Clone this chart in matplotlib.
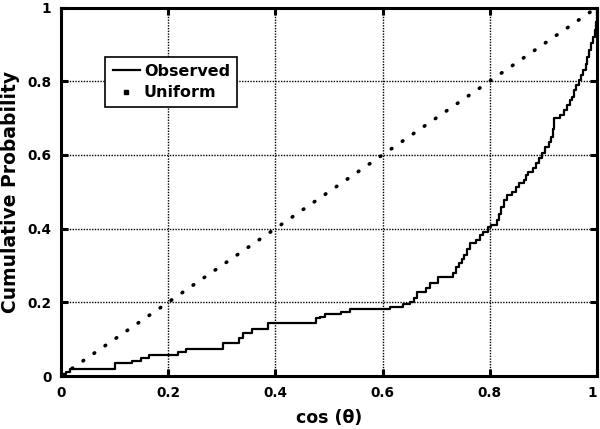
import matplotlib

matplotlib.use("Agg")
import matplotlib.pyplot as plt
from matplotlib.lines import Line2D

plt.rcParams.update(
    {
        "font.family": ["DejaVu Sans"],
        "font.weight": "bold",
        "font.size": 10,
    }
)

obs_x = [
    0.000, 0.004, 0.010, 0.016, 0.100, 0.132, 0.149, 0.165, 0.218, 0.234,
    0.303, 0.333, 0.340, 0.356, 0.387, 0.476, 0.483, 0.493, 0.522, 0.539,
    0.614, 0.639, 0.651, 0.658, 0.664, 0.681, 0.688, 0.704, 0.732, 0.738,
    0.742, 0.748, 0.752, 0.758, 0.763, 0.774, 0.782, 0.788, 0.796, 0.803,
    0.813, 0.818, 0.822, 0.826, 0.833, 0.841, 0.850, 0.855, 0.864, 0.868,
    0.872, 0.880, 0.886, 0.893, 0.898, 0.903, 0.910, 0.915, 0.918, 0.921,
    0.932, 0.938, 0.945, 0.950, 0.954, 0.958, 0.962, 0.966, 0.971, 0.975,
    0.979, 0.982, 0.986, 0.990, 0.993, 0.996, 0.998, 1.000,
]
obs_y = [
    0.000, 0.005, 0.011, 0.018, 0.036, 0.041, 0.048, 0.057, 0.065, 0.073,
    0.090, 0.104, 0.116, 0.127, 0.145, 0.157, 0.161, 0.168, 0.175, 0.182,
    0.188, 0.195, 0.202, 0.211, 0.227, 0.238, 0.252, 0.268, 0.279, 0.295,
    0.306, 0.318, 0.328, 0.344, 0.360, 0.369, 0.383, 0.392, 0.405, 0.410,
    0.423, 0.440, 0.458, 0.478, 0.491, 0.500, 0.512, 0.523, 0.532, 0.545,
    0.554, 0.564, 0.577, 0.592, 0.606, 0.622, 0.635, 0.649, 0.670, 0.699,
    0.708, 0.722, 0.735, 0.748, 0.758, 0.775, 0.790, 0.803, 0.818, 0.830,
    0.848, 0.866, 0.885, 0.903, 0.921, 0.939, 0.960, 1.000,
]

uni_x = [0.0, 1.0]
uni_y = [0.0, 1.0]

ticks = [0, 0.2, 0.4, 0.6, 0.8, 1]
tick_labels = ["0", "0.2", "0.4", "0.6", "0.8", "1"]

fig = plt.figure(figsize=(6.0, 4.29), dpi=100)
ax = fig.add_axes([0.1017, 0.1235, 0.893, 0.859])

ax.plot(
    uni_x,
    uni_y,
    color="black",
    linewidth=2.6,
    linestyle=(0, (0.2, 3.5)),
    dash_capstyle="round",
)
ax.step(obs_x, obs_y, where="post", color="black", linewidth=1.6)

ax.set_xlim(0, 1)
ax.set_ylim(0, 1)
ax.set_xticks(ticks)
ax.set_xticklabels(tick_labels)
ax.set_yticks(ticks)
ax.set_yticklabels(tick_labels)
# keep the last x label inside the figure
ax.get_xticklabels()[-1].set_horizontalalignment("right")

ax.grid(True, color="black", linestyle=(0, (1, 1)), linewidth=1.0)
for s in ax.spines.values():
    s.set_linewidth(2.2)
ax.tick_params(
    direction="in", length=5, width=2.2, top=True, right=True,
    labelsize=9.8, pad=7,
)

ax.set_xlabel("cos (\u03b8)", fontsize=12.5, fontweight="bold", labelpad=7)
ax.set_ylabel("Cumulative Probability", fontsize=13.5, fontweight="bold", labelpad=5)

handles = [
    Line2D([], [], color="black", linewidth=1.6),
    Line2D([], [], color="black", linestyle="none", marker="s", markersize=2.4),
]
leg = ax.legend(
    handles,
    ["Observed", "Uniform"],
    loc="upper left",
    bbox_to_anchor=(0.083, 0.867),
    borderaxespad=0,
    fancybox=False,
    framealpha=1,
    edgecolor="black",
    handlelength=1.7,
    borderpad=0.45,
    labelspacing=0.4,
    handletextpad=0.25,
    prop={"weight": "bold", "size": 11.5},
)
leg.get_frame().set_linewidth(1.2)

fig.savefig("out.png", dpi=100)
